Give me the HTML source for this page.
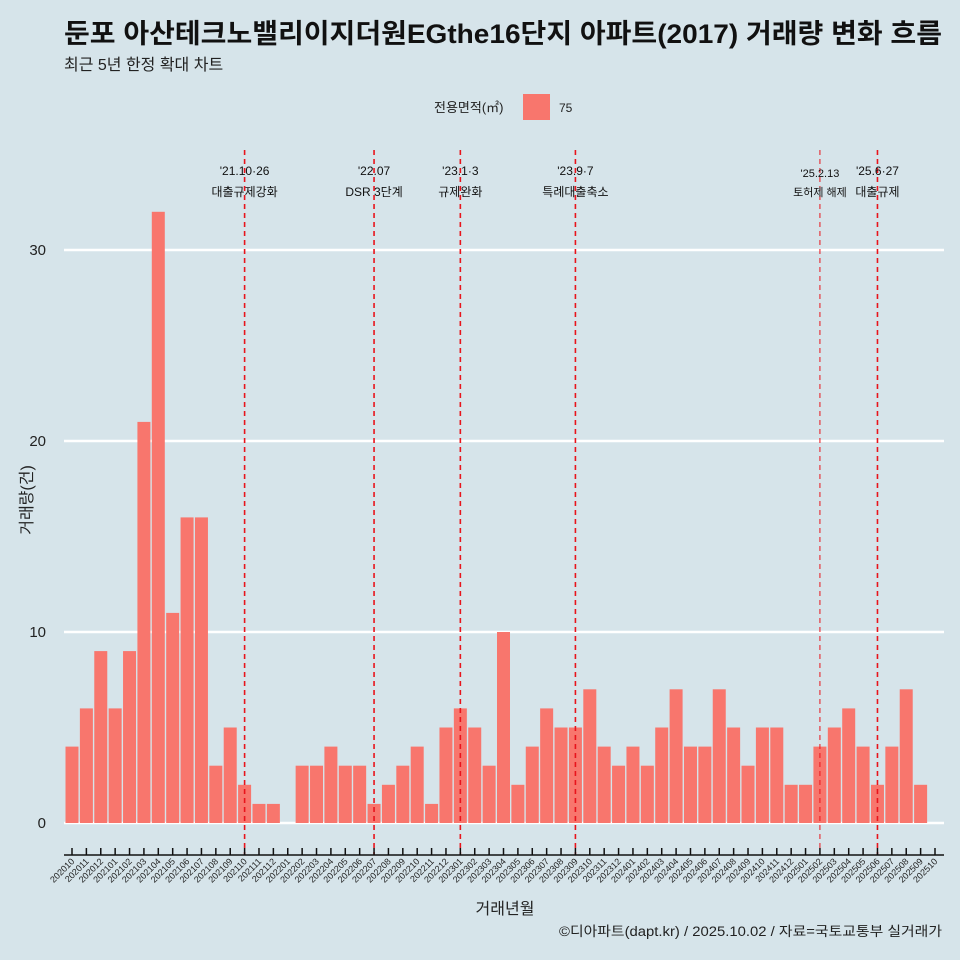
<!DOCTYPE html>
<html><head><meta charset="utf-8"><style>
body{margin:0;background:#d6e4ea;}
svg{display:block;font-family:"Liberation Sans","Noto Sans CJK KR",sans-serif;}
</style></head><body>
<svg id="chart" width="960" height="960" xmlns="http://www.w3.org/2000/svg">
<rect width="960" height="960" fill="#d6e4ea"/>
<text x="64" y="43" font-size="27" font-weight="bold" fill="#111" textLength="878" lengthAdjust="spacingAndGlyphs">둔포 아산테크노밸리이지더원EGthe16단지 아파트(2017) 거래량 변화 흐름</text>
<text x="64" y="70" font-size="16" fill="#222">최근 5년 한정 확대 차트</text>
<g>
<text x="434" y="112" font-size="13" fill="#222">전용면적(㎡)</text>
<rect x="523" y="94" width="27" height="26" fill="#f8766d"/>
<text x="559" y="112" font-size="12" fill="#222">75</text>
</g>
<g id="grid"></g>
<g id="bars"></g>
<g id="events"></g>
<g id="xaxis"></g>
<text x="32" y="500" font-size="16" fill="#222" transform="rotate(-90 32 500)" text-anchor="middle">거래량(건)</text>
<text x="505" y="914" font-size="16" fill="#222" text-anchor="middle">거래년월</text>
<text x="942" y="936" font-size="13.5" fill="#222" text-anchor="end" textLength="383" lengthAdjust="spacingAndGlyphs">©디아파트(dapt.kr) / 2025.10.02 / 자료=국토교통부 실거래가</text>
</svg>
<script>
const categories=["202010","202011","202012","202101","202102","202103","202104","202105","202106","202107","202108","202109","202110","202111","202112","202201","202202","202203","202204","202205","202206","202207","202208","202209","202210","202211","202212","202301","202302","202303","202304","202305","202306","202307","202308","202309","202310","202311","202312","202401","202402","202403","202404","202405","202406","202407","202408","202409","202410","202411","202412","202501","202502","202503","202504","202505","202506","202507","202508","202509","202510"];
const values=[4,6,9,6,9,21,32,11,16,16,3,5,2,1,1,0,3,3,4,3,3,1,2,3,4,1,5,6,5,3,10,2,4,6,5,5,7,4,3,4,3,5,7,4,4,7,5,3,5,5,2,2,4,5,6,4,2,4,7,2,0];
const yTicks=[0,10,20,30];
const eventMonths=["202110","202207","202301","202309","202502","202506"];
const eventLine1=["'21.10·26","'22.07","'23.1·3","'23.9·7","'25.2.13","'25.6·27"];
const eventLine2=["대출규제강화","DSR 3단계","규제완화","특례대출축소","토허제 해제","대출규제"];
const NS="http://www.w3.org/2000/svg";
const x0=72,x1=935,y0=823,yPer=19.1;
const step=(x1-x0)/(categories.length-1);
const xs=c=>x0+categories.indexOf(c)*step;
const ys=v=>y0-v*yPer;
function mk(t,a,p){const e=document.createElementNS(NS,t);for(const k in a)e.setAttribute(k,a[k]);document.getElementById(p).appendChild(e);return e;}
yTicks.forEach(t=>{
 const l=mk('line',{x1:64,x2:944,y1:ys(t),y2:ys(t),stroke:'#fff','stroke-width':2.5},'grid');
 
 
 const tx=mk('text',{x:46,y:ys(t)+5,'font-size':15,'text-anchor':'end',fill:'#222'},'grid');
 tx.textContent=t;
 
 
});
categories.forEach((c,i)=>{
 const v=values[i];
 if(v>0){
  const r=mk('rect',{x:xs(c)-6.5,y:ys(v),width:13,height:v*yPer,fill:'#f8766d'},'bars');
  
  
 }
 const tk=mk('line',{x1:xs(c),x2:xs(c),y1:848,y2:855,stroke:'#111','stroke-width':1.5},'xaxis');
 
 
 const lb=mk('text',{x:xs(c)+3,y:862,'font-size':9,'text-anchor':'end',fill:'#222',transform:`rotate(-45 ${xs(c)+3} 862)`},'xaxis');
 lb.textContent=c;
 
 
});
const ax=mk('line',{x1:64,x2:944,y1:855,y2:855,stroke:'#111','stroke-width':1.5},'xaxis');


eventMonths.forEach((m,i)=>{
 const x=xs(m),thin=(m==="202502");
 const l=mk('line',{x1:x,x2:x,y1:150,y2:855,stroke:'#e8141c','stroke-width':thin?1:1.6,'stroke-dasharray':'5,4'},'events');
 
 
 const fs=thin?11:12;
 const t1=mk('text',{x:x,y:thin?177:175,'font-size':fs,'text-anchor':'middle',fill:'#111'},'events');
 t1.textContent=eventLine1[i];
 
 
 const t2=mk('text',{x:x,y:196,'font-size':fs,'text-anchor':'middle',fill:'#111'},'events');
 t2.textContent=eventLine2[i];
 
 
});
</script>
</body></html>
